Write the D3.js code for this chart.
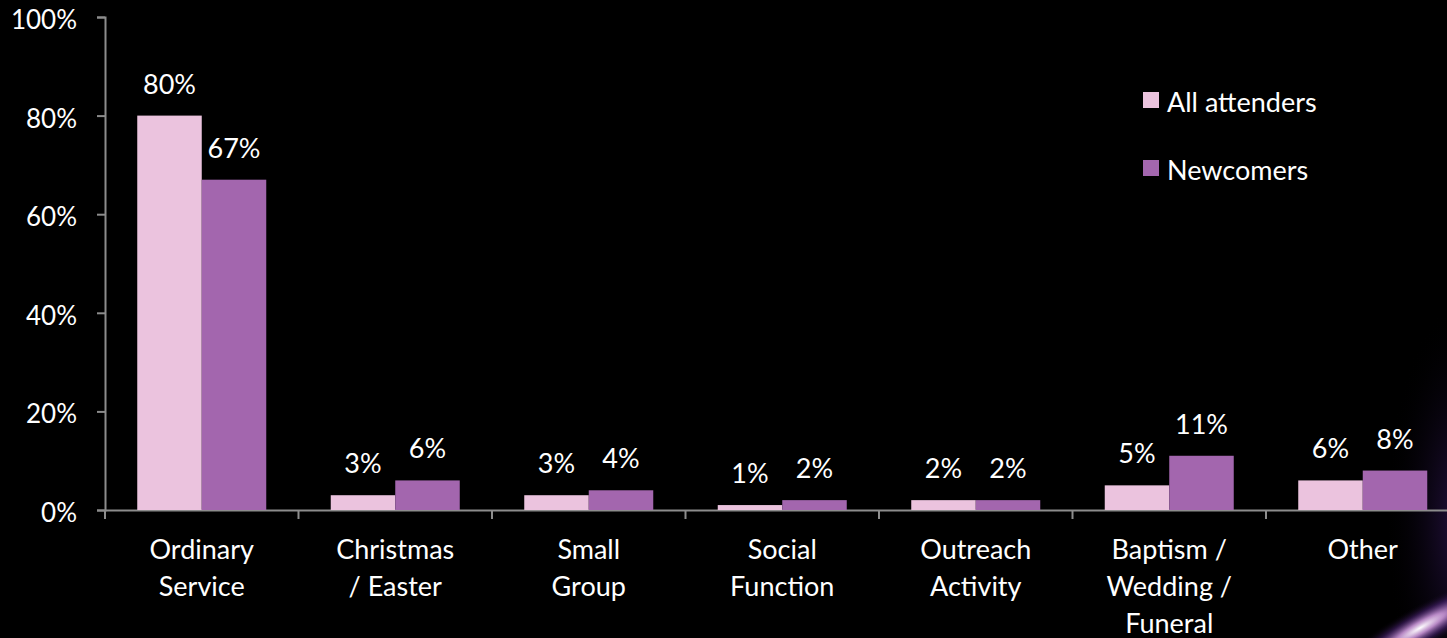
<!DOCTYPE html>
<html><head><meta charset="utf-8">
<script src="https://cdn.jsdelivr.net/npm/d3@7/dist/d3.min.js"></script>
<style>html,body{margin:0;padding:0;background:#000;overflow:hidden}</style>
</head><body><svg id="c" width="1447" height="638"></svg>
<script>
const categories = [["Ordinary","Service"],["Christmas","/ Easter"],["Small","Group"],["Social","Function"],["Outreach","Activity"],["Baptism /","Wedding /","Funeral"],["Other"]];
const seriesNames = ["All attenders","Newcomers"];
const allAttenders = [80,3,3,1,2,5,6];
const newcomers = [67,6,4,2,2,11,8];
const yTicks = [0,20,40,60,80,100];
const colors = ["#EBC3DE","#A366AE"];

const svg = d3.select("#c");
const W=1447,H=638;
const font = "Lato, 'Open Sans', sans-serif";
const fs = 27;

// decorative glow bottom-right
const defs = svg.append("defs");
const rg = defs.append("radialGradient").attr("id","glow").attr("cx","50%").attr("cy","50%").attr("r","50%");
rg.append("stop").attr("offset","0%").attr("stop-color","#ffffff").attr("stop-opacity",1);
rg.append("stop").attr("offset","25%").attr("stop-color","#d7a0e6").attr("stop-opacity",0.85);
rg.append("stop").attr("offset","60%").attr("stop-color","#5a2a8a").attr("stop-opacity",0.45);
rg.append("stop").attr("offset","100%").attr("stop-color","#000").attr("stop-opacity",0);
const rg2 = defs.append("radialGradient").attr("id","haze").attr("cx","50%").attr("cy","50%").attr("r","50%");
rg2.append("stop").attr("offset","0%").attr("stop-color","#3c1c6a").attr("stop-opacity",0.7);
rg2.append("stop").attr("offset","100%").attr("stop-color","#000").attr("stop-opacity",0);
svg.append("rect").attr("width",W).attr("height",H).attr("fill","#000");
svg.append("ellipse").attr("cx",1465).attr("cy",520).attr("rx",80).attr("ry",220).attr("fill","url(#haze)");
svg.append("ellipse").attr("cx",1420).attr("cy",628).attr("rx",110).attr("ry",22)
  .attr("transform","rotate(-30 1420 628)").attr("fill","url(#glow)");

const x0 = 105, yBase = 510, yTop = 17;
const bandW = 193.5;
const x = d3.scaleBand().domain(d3.range(categories.length)).range([x0, x0+bandW*categories.length]).paddingInner(0).paddingOuter(0);
const xs = d3.scaleBand().domain([0,1]).range([0, x.bandwidth()]).paddingInner(0).paddingOuter(0.5);
const y = d3.scaleLinear().domain([0,100]).range([yBase,yTop]);

const axisColor = "#8c8c8c";
// y axis
const yAxis = svg.append("g").attr("transform",`translate(${x0},0)`)
  .call(d3.axisLeft(y).tickValues(yTicks).tickSize(8).tickFormat(d=>d+"%"));
yAxis.select(".domain").attr("stroke",axisColor).attr("stroke-width",2);
yAxis.selectAll(".tick line").attr("stroke",axisColor).attr("stroke-width",2);
yAxis.selectAll(".tick text").attr("fill","#fff").attr("font-size",fs-1).attr("font-family",font).attr("x",-28).attr("dy","0.44em");

// x axis
const xAxis = svg.append("g").attr("transform",`translate(0,${yBase})`)
  .call(d3.axisBottom(x).tickSize(0).tickFormat(""));
xAxis.select(".domain").attr("stroke",axisColor).attr("stroke-width",2);
xAxis.selectAll(".tick").remove();
const bounds = d3.range(categories.length+1).map(i=>x0+i*bandW);
xAxis.selectAll("line.b").data(bounds).join("line").attr("class","b")
  .attr("x1",d=>d).attr("x2",d=>d).attr("y1",0).attr("y2",9).attr("stroke",axisColor).attr("stroke-width",2);

// bars
const data = categories.map((c,i)=>({i, vals:[allAttenders[i], newcomers[i]]}));
const g = svg.append("g");
data.forEach(d=>{
  d.vals.forEach((v,s)=>{
    const bx = x(d.i)+xs(s);
    g.append("rect").attr("x",bx).attr("y",y(v)).attr("width",xs.bandwidth()).attr("height",yBase-y(v))
      .attr("fill",colors[s]);
    g.append("text").attr("x",bx+xs.bandwidth()/2).attr("y",y(v)-22).attr("text-anchor","middle")
      .attr("fill","#fff").attr("font-size",fs).attr("font-family",font).text(v+"%");
  });
});

// category labels
categories.forEach((lines,i)=>{
  const t = svg.append("text").attr("text-anchor","middle").attr("fill","#fff").attr("font-size",fs).attr("font-family",font);
  lines.forEach((l,k)=>{
    t.append("tspan").attr("x",x(i)+x.bandwidth()/2).attr("y",559+k*37).text(l);
  });
});

// legend
seriesNames.forEach((n,s)=>{
  const ly = 92 + s*68;
  svg.append("rect").attr("x",1143).attr("y",ly).attr("width",16).attr("height",16).attr("fill",colors[s]);
  svg.append("text").attr("x",1167).attr("y",ly+20).attr("fill","#fff").attr("font-size",fs).attr("font-family",font).text(n);
});
</script></body></html>
